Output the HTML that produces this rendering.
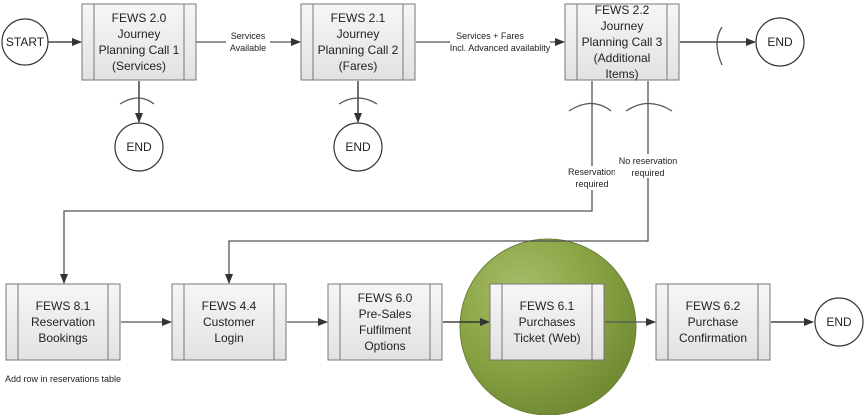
<!DOCTYPE html>
<html><head><meta charset="utf-8"><style>
html,body{margin:0;padding:0;background:#fff;width:865px;height:415px;overflow:hidden}
text{font-family:"Liberation Sans",sans-serif;fill:#222}
.b{font-size:12px}
.s{font-size:9px}
</style></head><body>
<svg width="865" height="415" viewBox="0 0 865 415" xmlns="http://www.w3.org/2000/svg">
<defs>
<linearGradient id="g" x1="0" y1="0" x2="0" y2="1"><stop offset="0" stop-color="#f6f6f6"/><stop offset="1" stop-color="#e2e2e2"/></linearGradient>
<radialGradient id="gr" cx="0.35" cy="0.3" r="0.8"><stop offset="0" stop-color="#a9bd6a"/><stop offset="0.5" stop-color="#8aa445"/><stop offset="1" stop-color="#6d8630"/></radialGradient>
<marker id="a" markerWidth="10" markerHeight="8" refX="9" refY="4" orient="auto" markerUnits="userSpaceOnUse"><path d="M0,0 L10,4 L0,8z" fill="#333"/></marker>
</defs>
<circle cx="548" cy="327" r="88" fill="url(#gr)" stroke="#6a7f35"/>
<g stroke="#555" stroke-width="1.3" fill="none">
<line x1="48" y1="42" x2="81" y2="42" marker-end="url(#a)" stroke="#222"/>
<line x1="196" y1="42" x2="300" y2="42" marker-end="url(#a)"/>
<line x1="416" y1="42" x2="564" y2="42" marker-end="url(#a)"/>
<line x1="680" y1="42" x2="755" y2="42" marker-end="url(#a)" stroke="#222"/>
<path d="M722,27 Q712,42 722,65"/>
<line x1="139" y1="81" x2="139" y2="122" marker-end="url(#a)" stroke="#222"/>
<path d="M120,104 Q139,92 154,104"/>
<line x1="358" y1="81" x2="358" y2="122" marker-end="url(#a)" stroke="#222"/>
<path d="M339,104 Q358,92 377,104"/>
<path d="M592,81 V211 H64 V283" marker-end="url(#a)"/>
<path d="M648,81 V241 H229 V283" marker-end="url(#a)"/>
<path d="M569,111 Q592,96 611,111"/>
<path d="M626,111 Q648,96 672,111"/>
<line x1="121" y1="322" x2="171" y2="322" marker-end="url(#a)"/>
<line x1="287" y1="322" x2="327" y2="322" marker-end="url(#a)"/>
<line x1="443" y1="322" x2="489" y2="322" marker-end="url(#a)" stroke="#222"/>
<line x1="605" y1="322" x2="655" y2="322" marker-end="url(#a)"/>
<line x1="771" y1="322" x2="813" y2="322" marker-end="url(#a)" stroke="#222"/>
</g>
<g fill="#fff" stroke="#333" stroke-width="1.2">
<circle cx="25" cy="42" r="23"/><circle cx="780" cy="42" r="24"/>
<circle cx="139" cy="147" r="24"/><circle cx="358" cy="147" r="24"/>
<circle cx="839" cy="322" r="24"/>
</g>
<g font-size="12" text-anchor="middle">
<text x="25" y="46" class="b">START</text><text x="780" y="46" class="b">END</text>
<text x="139" y="151" class="b">END</text><text x="358" y="151" class="b">END</text>
<text x="839" y="326" class="b">END</text>
</g>
<g stroke="#777" stroke-width="1" fill="url(#g)">
<rect x="82" y="4" width="114" height="76"/><line x1="94" y1="4" x2="94" y2="80"/><line x1="184" y1="4" x2="184" y2="80"/>
<rect x="301" y="4" width="114" height="76"/><line x1="313" y1="4" x2="313" y2="80"/><line x1="403" y1="4" x2="403" y2="80"/>
<rect x="565" y="4" width="114" height="76"/><line x1="577" y1="4" x2="577" y2="80"/><line x1="667" y1="4" x2="667" y2="80"/>
<rect x="6" y="284" width="114" height="76"/><line x1="18" y1="284" x2="18" y2="360"/><line x1="108" y1="284" x2="108" y2="360"/>
<rect x="172" y="284" width="114" height="76"/><line x1="184" y1="284" x2="184" y2="360"/><line x1="274" y1="284" x2="274" y2="360"/>
<rect x="328" y="284" width="114" height="76"/><line x1="340" y1="284" x2="340" y2="360"/><line x1="430" y1="284" x2="430" y2="360"/>
<rect x="490" y="284" width="114" height="76"/><line x1="502" y1="284" x2="502" y2="360"/><line x1="592" y1="284" x2="592" y2="360"/>
<rect x="656" y="284" width="114" height="76"/><line x1="668" y1="284" x2="668" y2="360"/><line x1="758" y1="284" x2="758" y2="360"/>
</g>
<g class="b" font-size="12" text-anchor="middle">
<text x="139" y="22" class="b">FEWS 2.0<tspan x="139" dy="16">Journey</tspan><tspan x="139" dy="16">Planning Call 1</tspan><tspan x="139" dy="16">(Services)</tspan></text>
<text x="358" y="22" class="b">FEWS 2.1<tspan x="358" dy="16">Journey</tspan><tspan x="358" dy="16">Planning Call 2</tspan><tspan x="358" dy="16">(Fares)</tspan></text>
<text x="622" y="14" class="b">FEWS 2.2<tspan x="622" dy="16">Journey</tspan><tspan x="622" dy="16">Planning Call 3</tspan><tspan x="622" dy="16">(Additional</tspan><tspan x="622" dy="16">Items)</tspan></text>
<text x="63" y="310" class="b">FEWS 8.1<tspan x="63" dy="16">Reservation</tspan><tspan x="63" dy="16">Bookings</tspan></text>
<text x="229" y="310" class="b">FEWS 4.4<tspan x="229" dy="16">Customer</tspan><tspan x="229" dy="16">Login</tspan></text>
<text x="385" y="302" class="b">FEWS 6.0<tspan x="385" dy="16">Pre-Sales</tspan><tspan x="385" dy="16">Fulfilment</tspan><tspan x="385" dy="16">Options</tspan></text>
<text x="547" y="310" class="b">FEWS 6.1<tspan x="547" dy="16">Purchases</tspan><tspan x="547" dy="16">Ticket (Web)</tspan></text>
<text x="713" y="310" class="b">FEWS 6.2<tspan x="713" dy="16">Purchase</tspan><tspan x="713" dy="16">Confirmation</tspan></text>
</g>
<rect x="226" y="29" width="44" height="22" fill="#fff"/>
<text x="248" y="39" class="s" text-anchor="middle">Services<tspan x="248" dy="12">Available</tspan></text>
<rect x="450" y="29" width="100" height="22" fill="#fff"/>
<text x="490" y="39" class="s" text-anchor="middle">Services + Fares<tspan x="500" dy="12">Incl.  Advanced availablity</tspan></text>
<rect x="563" y="166" width="60" height="24" fill="#fff"/>
<text x="592" y="175" class="s" text-anchor="middle">Reservation<tspan x="592" dy="12">required</tspan></text>
<rect x="615" y="154" width="66" height="24" fill="#fff"/>
<text x="648" y="164" class="s" text-anchor="middle">No reservation<tspan x="648" dy="12">required</tspan></text>
<text x="5" y="382" class="s">Add row in reservations table</text>
</svg>
</body></html>
